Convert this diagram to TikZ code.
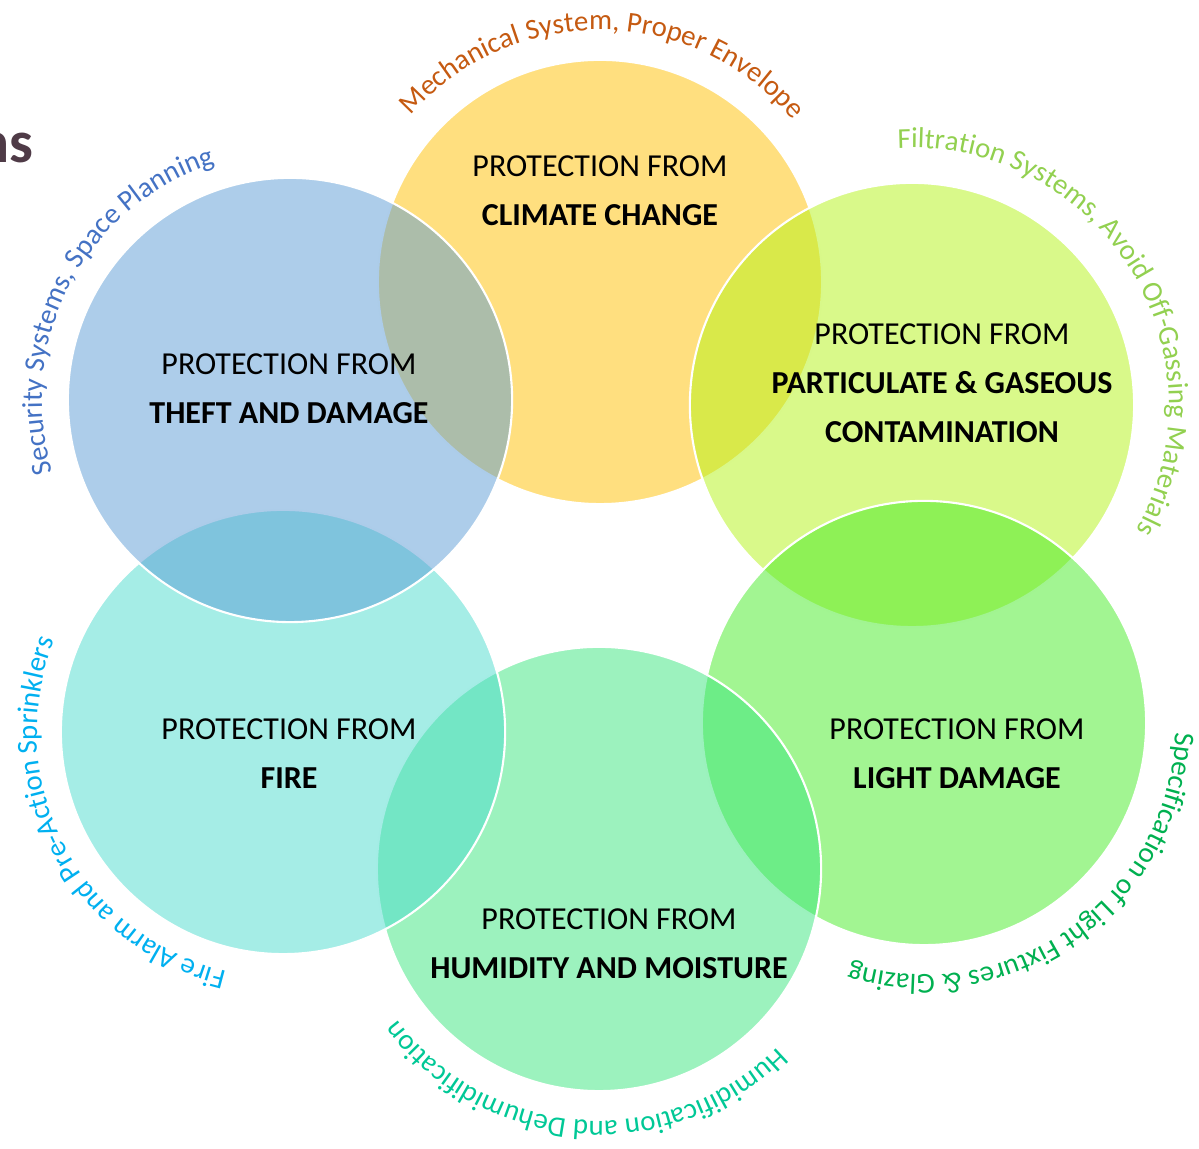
\documentclass[tikz,border=0pt]{standalone}
\usepackage{fontspec}
\setmainfont{Carlito}
\usetikzlibrary{decorations.text}

\definecolor{climatefill}{HTML}{FFC000}
\definecolor{theftfill}{HTML}{5B9BD5}
\definecolor{dustfill}{RGB}{179,243,21}
\definecolor{lightfill}{RGB}{69,235,37}
\definecolor{humidfill}{RGB}{57,229,125}
\definecolor{firefill}{RGB}{75,219,205}
\definecolor{mechcol}{HTML}{C55A11}
\definecolor{filtcol}{HTML}{92D050}
\definecolor{securcol}{HTML}{4472C4}
\definecolor{alarmcol}{HTML}{00B0F0}
\definecolor{humidcol}{HTML}{00C896}
\definecolor{speccol}{HTML}{00B050}
\definecolor{titlecol}{HTML}{4F3B47}

\newcommand{\topicfont}{\fontsize{9.1}{13.94}\selectfont}
\newcommand{\arcfont}{\fontsize{8.2}{9.5}\selectfont}

\tikzset{
  bubble/.style={circle, draw=white, line width=0.6pt, fill opacity=0.5,
    minimum size=4.44cm, inner sep=0pt},
  topic/.style={align=center, inner sep=0pt, font=\topicfont},
  arctext/.style 2 args={decorate, decoration={text along path,
    text color=#1, text align=center, text={|\arcfont|#2}}}
}

\begin{document}
\begin{tikzpicture}[x=0.01cm, y=0.01cm]
	\useasboundingbox (0,0) rectangle (1199,1149);

	% circles, back to front
	\node[bubble, fill=climatefill] (climate) at (600,867) {};
	\node[bubble, fill=dustfill] (dust) at (912,744) {};
	\node[bubble, fill=lightfill] (light) at (924,426) {};
	\node[bubble, fill=humidfill] (humid) at (599,280) {};
	\node[bubble, fill=firefill] (fire) at (283,417) {};
	\node[bubble, fill=theftfill] (theft) at (290,749) {};

	\node[topic] (climatetxt) at (600,958) {PROTECTION FROM\\\textbf{CLIMATE CHANGE}};
	\node[topic] (thefttxt) at (289,760) {PROTECTION FROM\\\textbf{THEFT AND DAMAGE}};
	\node[topic] (dusttxt) at (942,766) {PROTECTION FROM\\\textbf{PARTICULATE \& GASEOUS}\\\textbf{CONTAMINATION}};
	\node[topic] (firetxt) at (289,395) {PROTECTION FROM\\\textbf{FIRE}};
	\node[topic] (humidtxt) at (609,205) {PROTECTION FROM\\\textbf{HUMIDITY AND MOISTURE}};
	\node[topic] (lighttxt) at (957,395) {PROTECTION FROM\\\textbf{LIGHT DAMAGE}};

	% measures round the circles
	\path[arctext={mechcol}{Mechanical System, Proper Envelope}]
		([shift={(164.3:252)}]climate.center) arc[start angle=164.3, end angle=14.3, radius=252];
	\path[arctext={filtcol}{Filtration Systems, Avoid Off-Gassing Materials}]
		([shift={(112:257)}]dust.center) arc[start angle=112, end angle=-48, radius=257];
	\path[arctext={securcol}{Security Systems, Space Planning}]
		([shift={(227.3:248)}]theft.center) arc[start angle=227.3, end angle=77.3, radius=248];
	\path[arctext={alarmcol}{Fire Alarm and Pre-Action Sprinklers}]
		([shift={(282.4:246)}]fire.center) arc[start angle=282.4, end angle=132.4, radius=246];
	\path[arctext={humidcol}{Humidification and Dehumidification}]
		([shift={(340.9:252)}]humid.center) arc[start angle=340.9, end angle=190.9, radius=252];
	\path[arctext={speccol}{Specification of Light Fixtures {\&} Glazing}]
		([shift={(380.5:252)}]light.center) arc[start angle=380.5, end angle=230.5, radius=252];

	\node[anchor=base east, font=\fontsize{17}{20}\selectfont\bfseries, text=titlecol, inner sep=0pt] (title) at (34,986) {ns};
\end{tikzpicture}
\end{document}
